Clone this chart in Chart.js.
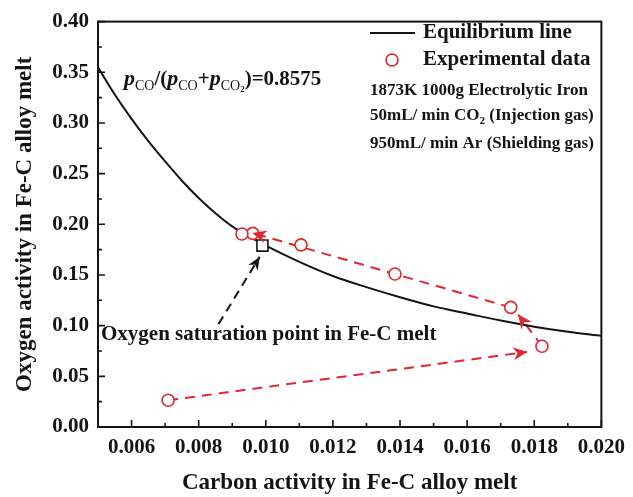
<!DOCTYPE html>
<html>
<head>
<meta charset="utf-8">
<script src="https://cdn.jsdelivr.net/npm/chart.js@4/dist/chart.umd.min.js"></script>
<style>
  html, body { margin: 0; padding: 0; background: #ffffff; }
  #wrap { width: 633px; height: 497px; position: relative; }
  canvas { display: block; }
</style>
</head>
<body>
<div id="wrap"><canvas id="chart" width="633" height="497"></canvas></div>
<script>
// Axis tick values
const carbonTicks = [0.006, 0.008, 0.010, 0.012, 0.014, 0.016, 0.018, 0.020];
const oxygenTicks = [0.00, 0.05, 0.10, 0.15, 0.20, 0.25, 0.30, 0.35, 0.40];

// Equilibrium line, pCO/(pCO+pCO2) = 0.8575
const eqCarbon = [0.0050, 0.0055, 0.0060, 0.0065, 0.0070, 0.0075, 0.0080, 0.0085, 0.0090, 0.0095,
                  0.0100, 0.0110, 0.0120, 0.0130, 0.0140, 0.0150, 0.0160, 0.0170, 0.0180, 0.0190, 0.0200];
const eqOxygen = [0.355, 0.328, 0.304, 0.282, 0.262, 0.243, 0.226, 0.211, 0.198, 0.188,
                  0.179, 0.163, 0.149, 0.138, 0.128, 0.119, 0.112, 0.105, 0.099, 0.094, 0.090];

// Experimental data (in sampling order)
const expCarbon = [0.00709, 0.01823, 0.01730, 0.01385, 0.01105, 0.00961, 0.00929];
const expOxygen = [0.0264, 0.0797, 0.1180, 0.1510, 0.1797, 0.1910, 0.1904];

// Oxygen saturation point
const satCarbon = [0.0099];
const satOxygen = [0.179];

// Trend arrows: start and tip in data units
const trendFromC = [0.00709, 0.01823, 0.01730];
const trendFromO = [0.0264, 0.0797, 0.1180];
const trendToC   = [0.01779, 0.01752, 0.00960];
const trendToO   = [0.0741, 0.1110, 0.1915];

// Pointer from the caption to the saturation point
const pointerFrom = [0.00859, 0.1015];
const pointerTo   = [0.00982, 0.1680];

const RED = '#e3262d';
const INK = '#141414';
const SERIF = "'Liberation Serif', 'Times New Roman', serif";

const toXY = (xs, ys) => xs.map((x, i) => ({ x: x, y: ys[i] }));

function arrowHead(ctx, x1, y1, x2, y2, len, half, color) {
  const a = Math.atan2(y2 - y1, x2 - x1);
  ctx.save();
  ctx.fillStyle = color;
  ctx.beginPath();
  ctx.moveTo(x2, y2);
  ctx.lineTo(x2 - len * Math.cos(a) + half * Math.sin(a), y2 - len * Math.sin(a) - half * Math.cos(a));
  ctx.lineTo(x2 - 0.7 * len * Math.cos(a), y2 - 0.7 * len * Math.sin(a));
  ctx.lineTo(x2 - len * Math.cos(a) - half * Math.sin(a), y2 - len * Math.sin(a) + half * Math.cos(a));
  ctx.closePath();
  ctx.fill();
  ctx.restore();
}

function dashedLine(ctx, x1, y1, x2, y2, color, dash, width) {
  ctx.save();
  ctx.strokeStyle = color;
  ctx.lineWidth = width;
  ctx.setLineDash(dash);
  ctx.beginPath();
  ctx.moveTo(x1, y1);
  ctx.lineTo(x2, y2);
  ctx.stroke();
  ctx.restore();
}

// Frame and inward tick marks
const framePlugin = {
  id: 'frame',
  afterDatasetsDraw(chart) {
    const { ctx, chartArea: a, scales: { x, y } } = chart;
    ctx.save();
    ctx.strokeStyle = INK;
    ctx.lineWidth = 2;
    ctx.strokeRect(a.left, a.top, a.right - a.left, a.bottom - a.top);
    ctx.lineWidth = 1.6;
    ctx.beginPath();
    carbonTicks.forEach((v, i) => {
      const px = x.getPixelForValue(v);
      ctx.moveTo(px, a.bottom); ctx.lineTo(px, a.bottom - 7);
      if (i > 0) {
        const m = x.getPixelForValue((v + carbonTicks[i - 1]) / 2);
        ctx.moveTo(m, a.bottom); ctx.lineTo(m, a.bottom - 4);
      }
    });
    oxygenTicks.forEach((v, i) => {
      const py = y.getPixelForValue(v);
      ctx.moveTo(a.left, py); ctx.lineTo(a.left + 7, py);
      if (i > 0) {
        const m = y.getPixelForValue((v + oxygenTicks[i - 1]) / 2);
        ctx.moveTo(a.left, m); ctx.lineTo(a.left + 4, m);
      }
    });
    ctx.stroke();
    ctx.restore();
  }
};

// Dashed trend arrows (lines under the markers, heads on top)
const arrowPlugin = {
  id: 'arrows',
  beforeDatasetsDraw(chart) {
    const { ctx, scales: { x, y } } = chart;
    trendFromC.forEach((c, i) => {
      dashedLine(ctx, x.getPixelForValue(c), y.getPixelForValue(trendFromO[i]),
                 x.getPixelForValue(trendToC[i]), y.getPixelForValue(trendToO[i]), RED, [10, 7], 2);
    });
    dashedLine(ctx, x.getPixelForValue(pointerFrom[0]), y.getPixelForValue(pointerFrom[1]),
               x.getPixelForValue(pointerTo[0]), y.getPixelForValue(pointerTo[1]), INK, [9, 6], 2);
  },
  afterDatasetsDraw(chart) {
    const { ctx, scales: { x, y } } = chart;
    trendFromC.forEach((c, i) => {
      arrowHead(ctx, x.getPixelForValue(c), y.getPixelForValue(trendFromO[i]),
                x.getPixelForValue(trendToC[i]), y.getPixelForValue(trendToO[i]), 14, 6.5, RED);
    });
    arrowHead(ctx, x.getPixelForValue(pointerFrom[0]), y.getPixelForValue(pointerFrom[1]),
              x.getPixelForValue(pointerTo[0]), y.getPixelForValue(pointerTo[1]), 13, 5.5, INK);
  }
};

// Text runs with subscripts, drawn left to right
function drawRuns(ctx, x0, baseline, runs) {
  let xx = x0;
  runs.forEach(r => {
    ctx.font = r.font;
    ctx.fillText(r.t, xx, baseline + (r.dy || 0));
    xx += ctx.measureText(r.t).width;
  });
}

const notePlugin = {
  id: 'notes',
  afterDraw(chart) {
    const { ctx } = chart;
    ctx.save();
    ctx.fillStyle = INK;
    ctx.textAlign = 'left';
    ctx.textBaseline = 'alphabetic';

    const P = `italic bold 22px ${SERIF}`;
    const M = `bold 21px ${SERIF}`;
    const S = `14px ${SERIF}`;
    const SS = `bold 9px ${SERIF}`;
    drawRuns(ctx, 124, 85, [
      { t: 'p', font: P }, { t: 'CO', font: S, dy: 5 }, { t: '/(', font: M },
      { t: 'p', font: P }, { t: 'CO', font: S, dy: 5 }, { t: '+', font: M },
      { t: 'p', font: P }, { t: 'CO', font: S, dy: 5 }, { t: '2', font: SS, dy: 7 },
      { t: ')=0.8575', font: M }
    ]);

    // Legend
    ctx.strokeStyle = INK;
    ctx.lineWidth = 2;
    ctx.beginPath(); ctx.moveTo(370, 33); ctx.lineTo(415, 33); ctx.stroke();
    ctx.strokeStyle = RED;
    ctx.lineWidth = 1.6;
    ctx.beginPath(); ctx.arc(392, 60, 6, 0, Math.PI * 2); ctx.stroke();

    ctx.textBaseline = 'middle';
    ctx.font = `bold 21px ${SERIF}`;
    ctx.fillText('Equilibrium line', 423, 33);
    ctx.fillText('Experimental data', 423, 60);

    ctx.textBaseline = 'alphabetic';
    const L = `bold 17px ${SERIF}`;
    drawRuns(ctx, 370, 95, [{ t: '1873K 1000g Electrolytic Iron', font: L }]);
    drawRuns(ctx, 370, 120, [
      { t: '50mL/ min CO', font: L }, { t: '2', font: `bold 11px ${SERIF}`, dy: 4 },
      { t: ' (Injection gas)', font: L }
    ]);
    drawRuns(ctx, 370, 148, [{ t: '950mL/ min Ar (Shielding gas)', font: L }]);

    ctx.textBaseline = 'middle';
    ctx.font = `bold 21px ${SERIF}`;
    ctx.fillText('Oxygen saturation point in Fe-C melt', 101, 335);
    ctx.restore();
  }
};

const tickFont = { family: SERIF, size: 21, weight: 'bold' };
const titleFont = { family: SERIF, size: 23, weight: 'bold' };

new Chart(document.getElementById('chart'), {
  type: 'scatter',
  data: {
    datasets: [
      {
        label: 'Saturation point',
        data: toXY(satCarbon, satOxygen),
        pointStyle: 'rect',
        pointRadius: 7.8,
        pointBorderWidth: 1.6,
        pointBorderColor: INK,
        pointBackgroundColor: '#ffffff',
        showLine: false,
        order: 0
      },
      {
        label: 'Experimental data',
        data: toXY(expCarbon, expOxygen),
        pointStyle: 'circle',
        pointRadius: 6,
        pointBorderWidth: 1.6,
        pointBorderColor: RED,
        pointBackgroundColor: '#ffffff',
        showLine: false,
        order: 1
      },
      {
        label: 'Equilibrium line',
        data: toXY(eqCarbon, eqOxygen),
        showLine: true,
        borderColor: INK,
        borderWidth: 2,
        pointRadius: 0,
        cubicInterpolationMode: 'monotone',
        fill: false,
        order: 2
      }
    ]
  },
  options: {
    responsive: false,
    animation: false,
    devicePixelRatio: 1,
    layout: { padding: { top: 17, right: 26, left: 0, bottom: 0 } },
    plugins: { legend: { display: false }, tooltip: { enabled: false } },
    scales: {
      x: {
        type: 'linear',
        min: 0.005,
        max: 0.020,
        afterBuildTicks: s => { s.ticks = carbonTicks.map(v => ({ value: v })); },
        afterFit: s => { s.height = 70; },
        grid: { display: false, drawTicks: false },
        border: { display: false },
        ticks: {
          font: tickFont, color: INK, padding: 8, maxRotation: 0, autoSkip: false,
          callback: v => Number(v).toFixed(3)
        },
        title: {
          display: true, text: 'Carbon activity in Fe-C alloy melt',
          font: titleFont, color: INK, padding: { top: 0, bottom: 0 }
        }
      },
      y: {
        type: 'linear',
        min: 0,
        max: 0.40,
        afterBuildTicks: s => { s.ticks = oxygenTicks.map(v => ({ value: v })); },
        afterFit: s => { s.width = 98; },
        grid: { display: false, drawTicks: false },
        border: { display: false },
        ticks: {
          font: tickFont, color: INK, padding: 9, autoSkip: false,
          callback: v => Number(v).toFixed(2)
        },
        title: {
          display: true, text: 'Oxygen activity in Fe-C alloy melt',
          font: titleFont, color: INK, padding: { top: 11, bottom: 0 }
        }
      }
    }
  },
  plugins: [arrowPlugin, framePlugin, notePlugin]
});
</script>
</body>
</html>
